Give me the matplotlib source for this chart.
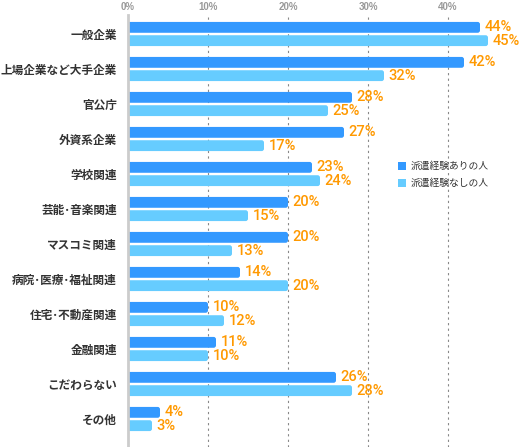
import matplotlib
matplotlib.use("Agg")
import matplotlib.pyplot as plt
from matplotlib.patches import FancyBboxPatch, Patch
import numpy as np

plt.rcParams['font.family'] = ['Noto Sans CJK JP', 'DejaVu Sans']

categories = ["一般企業", "上場企業など大手企業", "官公庁", "外資系企業", "学校関連",
              "芸能･音楽関連", "マスコミ関連", "病院･医療･福祉関連", "住宅･不動産関連",
              "金融関連", "こだわらない", "その他"]
with_exp = [44, 42, 28, 27, 23, 20, 20, 14, 10, 11, 26, 4]
without_exp = [45, 32, 25, 17, 24, 15, 13, 20, 12, 10, 28, 3]
series_names = ["派遣経験ありの人", "派遣経験なしの人"]
ticks = [0, 10, 20, 30, 40]
tick_labels = ["0%", "10%", "20%", "30%", "40%"]

c_dark = "#3399ff"
c_light = "#66ccff"
c_label = "#ff9900"

W, H = 521, 447
fig = plt.figure(figsize=(W / 100, H / 100), dpi=100)
ax = fig.add_axes([128 / W, 0, (W - 128) / W, (H - 15) / H])

ax.set_xlim(0, (W - 128) / 8)
ax.set_ylim(11.8, -0.543)

y = np.arange(len(categories))
off = 0.19
h = 0.31
bars1 = ax.barh(y - off, with_exp, height=h, color=c_dark, zorder=3)
bars2 = ax.barh(y + off, without_exp, height=h, color=c_light, zorder=3)

# rounded right ends: replace each rectangle with a rounded box of the same extent
aspect = 8.0 / 35.0
for bars, col in ((bars1, c_dark), (bars2, c_light)):
    for r in bars:
        x0, y0, w, hh = r.get_x(), r.get_y(), r.get_width(), r.get_height()
        r.set_visible(False)
        p = FancyBboxPatch((x0 - 1.0, y0), w + 1.0, hh,
                           boxstyle="round,pad=0,rounding_size=0.3",
                           mutation_aspect=aspect, facecolor=col, edgecolor='none',
                           zorder=3)
        ax.add_patch(p)

for yi, v in zip(y, with_exp):
    ax.text(v + 0.6, yi - off, f"{v}%", color=c_label, fontsize=10.5, family='Roboto',
            fontweight='medium', va='center', ha='left', zorder=4)
for yi, v in zip(y, without_exp):
    ax.text(v + 0.6, yi + off, f"{v}%", color=c_label, fontsize=10.5, family='Roboto',
            fontweight='medium', va='center', ha='left', zorder=4)

ax.set_yticks(y)
ax.set_yticklabels(categories, fontsize=8.4, color="#333333", fontweight='bold')
ax.tick_params(axis='y', length=0, pad=8)

ax.xaxis.tick_top()
ax.set_xticks(ticks)
ax.set_xticklabels(tick_labels, fontsize=7, color="#999999", fontweight='bold',
                   family='Liberation Sans')
ax.tick_params(axis='x', length=0, pad=2)

for t in ticks[1:]:
    ax.axvline(t, color="#888888", linestyle=(0, (2, 3)), linewidth=0.8, zorder=1)

for s in ["top", "right", "bottom"]:
    ax.spines[s].set_visible(False)
ax.spines["left"].set_color("#cccccc")
ax.spines["left"].set_linewidth(2)
ax.spines["left"].set_zorder(5)

handles = [Patch(facecolor=c_dark, edgecolor='none'), Patch(facecolor=c_light, edgecolor='none')]
leg = ax.legend(handles, series_names, loc='upper left',
                bbox_to_anchor=((398 - 128) / (W - 128), 1 - (161 - 15) / (H - 15)),
                bbox_transform=ax.transAxes, frameon=False, fontsize=7,
                handlelength=0.85, handleheight=0.85, handletextpad=0.5, labelspacing=0.75,
                borderaxespad=0, borderpad=0)
for t in leg.get_texts():
    t.set_color("#333333")

fig.savefig("out.png", dpi=100, facecolor="white")
